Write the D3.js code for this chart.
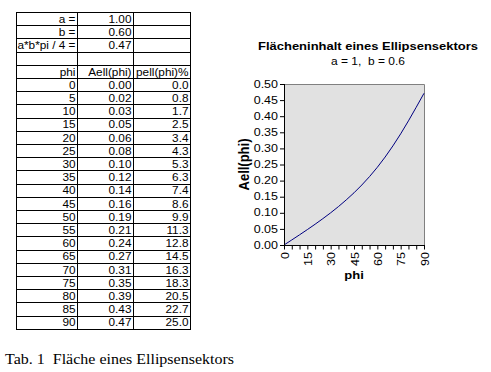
<!DOCTYPE html>
<html><head><meta charset="utf-8">
<script src="https://cdn.jsdelivr.net/npm/d3@7"></script>
<style>html,body{margin:0;padding:0;background:#fff;overflow:hidden}</style>
</head><body>
<svg id="c" width="491" height="372"></svg>
<script>
// ---- data ----
const paramLabels = ["a =", "b =", "a*b*pi / 4 ="];
const paramValues = [1.00, 0.60, 0.47];
const headers = ["phi", "Aell(phi)", "pell(phi)%"];
const phi = [0,5,10,15,20,25,30,35,40,45,50,55,60,65,70,75,80,85,90];
const aell = [0.0000,0.0157,0.0316,0.0478,0.0645,0.0819,0.1000,0.1193,0.1400,0.1621,0.1862,0.2125,0.2414,0.2731,0.3077,0.3452,0.3855,0.4278,0.4712];
const pell = [0.0,0.8,1.7,2.5,3.4,4.3,5.3,6.3,7.4,8.6,9.9,11.3,12.8,14.5,16.3,18.3,20.5,22.7,25.0];
const yTicks = [0,0.05,0.10,0.15,0.20,0.25,0.30,0.35,0.40,0.45,0.50];
const xMinor = d3.range(0, 91, 5);
const xLabels = [0,15,30,45,60,75,90];
const chartTitle = "Flächeninhalt eines Ellipsensektors";
const chartSubtitle = "a = 1,  b = 0.6";
const xTitle = "phi";
const yTitle = "Aell(phi)";
const caption = "Tab. 1  Fläche eines Ellipsensektors";

const svg = d3.select("#c");
const SANS = "'Liberation Sans', Arial, sans-serif";
const SY = 0.78;

function txt(g, x, y, s, o) {
  o = o || {};
  const t = g.append("text")
    .attr("transform", `translate(${x},${y})` + (o.rot ? ` rotate(${o.rot})` : "") + ` scale(${o.sx||1},${o.sy||SY})`)
    .attr("font-family", o.family || SANS)
    .attr("font-size", o.size || 13)
    .attr("font-weight", o.weight || "normal")
    .attr("text-anchor", o.anchor || "end")
    .attr("fill", "#000")
    .style("white-space", "pre")
    .text(s);
  return t;
}

// ---- table ----
const colX = [16, 77, 133, 190];
const rowTop = 12, rowH = 13.2;
const rows = [];
paramLabels.forEach((l, i) => rows.push([l, paramValues[i].toFixed(2), ""]));
rows.push(["", "", ""]);
rows.push(headers);
phi.forEach((p, i) => rows.push([String(p), aell[i].toFixed(2), pell[i].toFixed(1)]));
const nRows = rows.length;
const rowY = d3.scaleLinear().domain([0, nRows]).range([rowTop, rowTop + nRows * rowH]);

const tg = svg.append("g");
d3.range(nRows + 1).forEach(r => {
  const y = Math.round(rowY(r)) + 0.5;
  tg.append("line").attr("x1", colX[0]).attr("x2", colX[3] + 1).attr("y1", y).attr("y2", y)
    .attr("stroke", "#000").attr("stroke-width", 1);
});
colX.forEach(x => {
  tg.append("line").attr("x1", x + 0.5).attr("x2", x + 0.5)
    .attr("y1", Math.round(rowY(0))).attr("y2", Math.round(rowY(nRows)) + 1)
    .attr("stroke", "#000").attr("stroke-width", 1);
});
rows.forEach((row, r) => {
  row.forEach((cell, c) => {
    if (cell !== "") txt(tg, colX[c + 1] - 1.5, rowY(r) + 10.7, cell, {size: 11.8, sy: 0.9});
  });
});

// ---- chart ----
const px0 = 284, px1 = 424, py0 = 84, py1 = 245;
const x = d3.scaleLinear().domain([0, 90]).range([px0, px1]);
const y = d3.scaleLinear().domain([0, 0.5]).range([py1, py0]);
const cg = svg.append("g");

cg.append("rect").attr("x", px0).attr("y", py0).attr("width", px1 - px0).attr("height", py1 - py0)
  .attr("fill", "#e1e1e1");
cg.append("path").attr("d", `M${px0},${py0 + 0.5}H${px1 + 0.5}V${py1}`)
  .attr("fill", "none").attr("stroke", "#808080").attr("stroke-width", 1);

const line = d3.line().x((d, i) => x(phi[i])).y(d => y(d));
cg.append("path").datum(aell).attr("d", line)
  .attr("fill", "none").attr("stroke", "#000080").attr("stroke-width", 1);

// y axis
const yAxis = d3.axisLeft(y).tickValues(yTicks).tickSize(4).tickFormat("");
const ya = cg.append("g").attr("transform", `translate(${px0 + 0.5},0)`).call(yAxis);
ya.select(".domain").attr("stroke", "#000").attr("d", `M0,${py0}V${py1 + 0.5}`);
ya.selectAll(".tick line").attr("stroke", "#000").attr("x2", -4.5);
yTicks.forEach(v => txt(cg, 278, y(v) + 3.6, d3.format(".2f")(v), {size: 12.5, sy: 0.8}));

// x axis
const xAxis = d3.axisBottom(x).tickValues(xMinor).tickSize(4).tickFormat("");
const xa = cg.append("g").attr("transform", `translate(0,${py1 + 0.5})`).call(xAxis);
xa.select(".domain").attr("stroke", "#000").attr("d", `M${px0},0H${px1 + 1}`);
xa.selectAll(".tick line").attr("stroke", "#000");
xLabels.forEach(v => txt(cg, x(v) + 4.5, 252, String(v), {size: 12.5, rot: -90, sy: 0.85}));

// titles
txt(cg, 368, 50, chartTitle, {size: 13, weight: "bold", anchor: "middle", sy: 0.85});
txt(cg, 368, 65, chartSubtitle, {size: 12, anchor: "middle", sy: 0.85});
txt(cg, 354, 279, xTitle, {size: 13, weight: "bold", anchor: "middle", sy: 0.88});
txt(cg, 249, (py0 + py1) / 2, yTitle, {size: 13, weight: "bold", anchor: "middle", rot: -90, sy: 1.08});

// caption
txt(svg, 5, 364, caption, {family: "'Liberation Serif', 'Times New Roman', serif", size: 16, anchor: "start", sy: 0.9});
</script>
</body></html>
